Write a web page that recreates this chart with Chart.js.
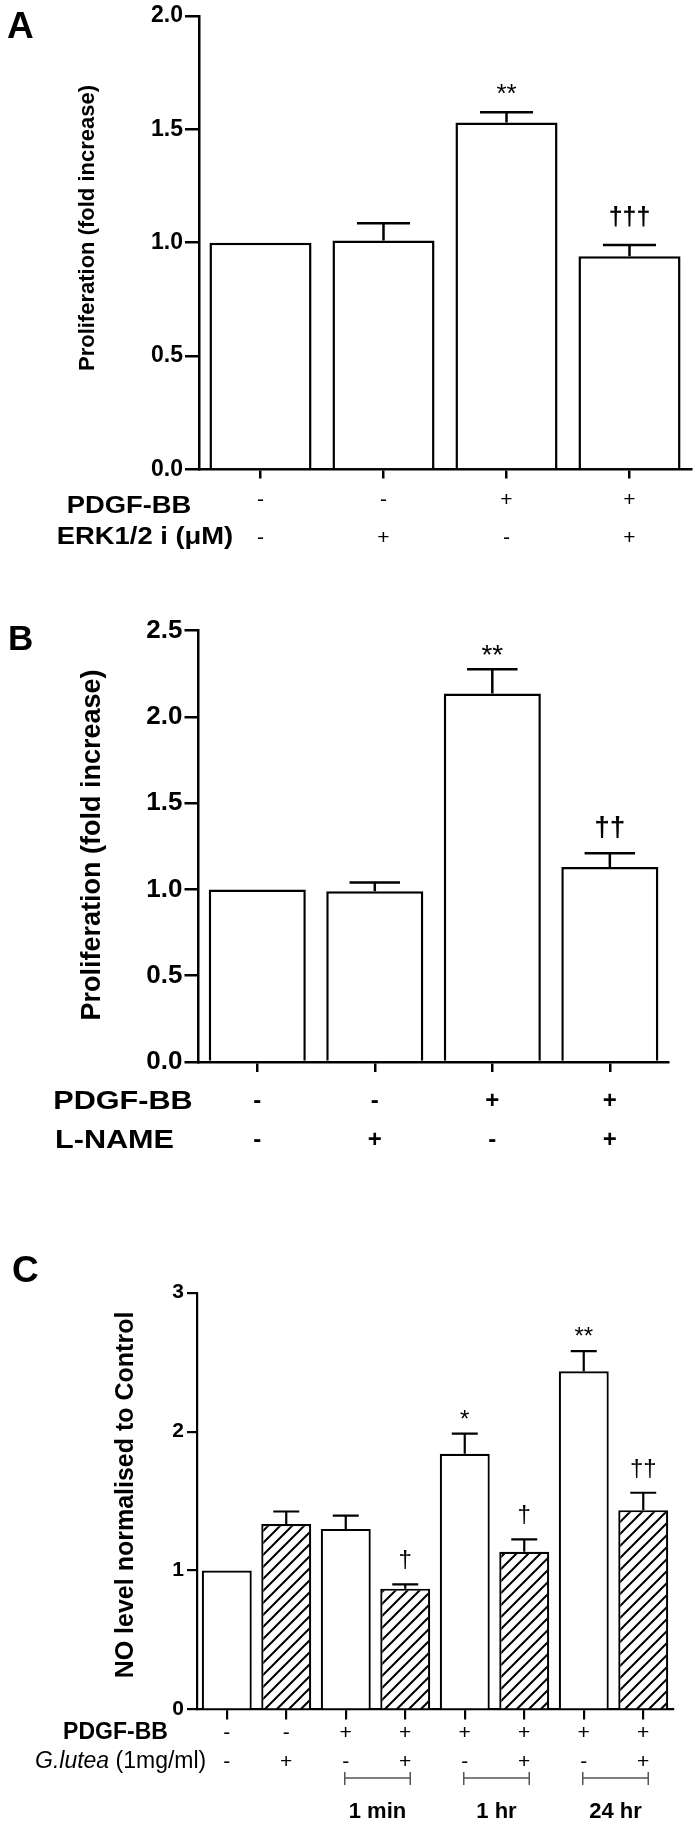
<!DOCTYPE html>
<html>
<head>
<meta charset="utf-8">
<script src="https://cdn.jsdelivr.net/npm/chart.js@4.4.1/dist/chart.umd.min.js"></script>
<style>
  html, body { margin: 0; padding: 0; background: #fff; }
  #page { position: relative; width: 698px; height: 1827px; overflow: hidden; background: #fff; }
  canvas { position: absolute; left: 0; }
</style>
</head>
<body>
<div id="page">
  <canvas id="panelA" width="698" height="560" style="top:0px"></canvas>
  <canvas id="panelB" width="698" height="610" style="top:560px"></canvas>
  <canvas id="panelC" width="698" height="657" style="top:1170px"></canvas>
</div>
<script>
// ---- data ----
// Panel A: ERK1/2 inhibitor
const aGroups = ["Control", "ERK1/2 i", "PDGF-BB", "PDGF-BB + ERK1/2 i"];
const aMeans = [1.0, 1.01, 1.53, 0.94];
const aSem = [0, 0.075, 0.045, 0.05];
const aSig = ["", "", "**", "†††"];
const aPdgf = ["-", "-", "+", "+"];
const aErk = ["-", "+", "-", "+"];

// Panel B: L-NAME
const bGroups = ["Control", "L-NAME", "PDGF-BB", "PDGF-BB + L-NAME"];
const bMeans = [1.0, 0.99, 2.135, 1.13];
const bSem = [0, 0.05, 0.14, 0.08];
const bSig = ["", "", "**", "††"];
const bPdgf = ["-", "-", "+", "+"];
const bLname = ["-", "+", "-", "+"];

// Panel C: NO level, G. lutea over time
const cGroups = ["Control", "G.lutea", "PDGF 1min", "PDGF+G 1min", "PDGF 1hr", "PDGF+G 1hr", "PDGF 24hr", "PDGF+G 24hr"];
const cMeans = [1.0, 1.335, 1.30, 0.87, 1.84, 1.135, 2.435, 1.435];
const cSem = [0, 0.09, 0.095, 0.03, 0.145, 0.09, 0.145, 0.125];
const cSig = ["", "", "", "†", "*", "†", "**", "††"];
const cPdgf = ["-", "-", "+", "+", "+", "+", "+", "+"];
const cLutea = ["-", "+", "-", "+", "-", "+", "-", "+"];
const cHatched = [false, true, false, true, false, true, false, true];
const cTimes = ["1 min", "1 hr", "24 hr"];
const cTimeStart = [2, 4, 6]; // first bar index of each bracket

// ---- helpers ----
const FAMILY = '"Liberation Sans", Arial, Helvetica, sans-serif';
const font = (size, weight = "normal", style = "normal") => `${style} ${weight} ${size}px ${FAMILY}`;

Chart.defaults.font.family = FAMILY;
Chart.defaults.color = "#000";

function hatchPattern(ctx) {
  const s = 12;
  const tile = document.createElement("canvas");
  tile.width = s;
  tile.height = s;
  const g = tile.getContext("2d");
  g.fillStyle = "#fff";
  g.fillRect(0, 0, s, s);
  g.strokeStyle = "#000";
  g.lineWidth = 2;
  g.beginPath();
  g.moveTo(-2, s + 2); g.lineTo(s + 2, -2);
  g.moveTo(-2, 2); g.lineTo(2, -2);
  g.moveTo(s - 2, s + 2); g.lineTo(s + 2, s - 2);
  g.stroke();
  return ctx.createPattern(tile, "repeat");
}

// text made of differently styled pieces, optionally widened (the source art is stretched sideways)
function drawParts(ctx, parts, x, y, align, stretch = 1) {
  let w = 0;
  for (const p of parts) { ctx.font = p.font; w += ctx.measureText(p.text).width; }
  const x0 = align === "center" ? x - (w * stretch) / 2 : x;
  ctx.save();
  ctx.translate(x0, y);
  ctx.scale(stretch, 1);
  ctx.textAlign = "left";
  let tx = 0;
  for (const p of parts) {
    ctx.font = p.font;
    ctx.fillText(p.text, tx, 0);
    tx += ctx.measureText(p.text).width;
  }
  ctx.restore();
}

// error bars, significance marks, row labels, titles
function extras(o) {
  return {
    id: "extras",
    afterDatasetsDraw(chart) {
      const ctx = chart.ctx;
      const ds = chart.data.datasets[0];
      const y = chart.scales.y;
      ctx.save();
      ctx.strokeStyle = "#000";
      ctx.fillStyle = "#000";
      ctx.lineWidth = o.lineWidth;
      chart.getDatasetMeta(0).data.forEach((bar, i) => {
        const err = ds.sem[i];
        const top = y.getPixelForValue(ds.data[i] + err);
        if (err > 0) {
          const half = bar.width * 0.26;
          ctx.beginPath();
          ctx.moveTo(bar.x, bar.y);
          ctx.lineTo(bar.x, top);
          ctx.moveTo(bar.x - half, top);
          ctx.lineTo(bar.x + half, top);
          ctx.stroke();
        }
        const mark = ds.sig[i];
        if (mark) {
          ctx.font = mark[0] === "*" ? o.starFont : o.daggerFont;
          ctx.textAlign = "center";
          ctx.textBaseline = "alphabetic";
          const m = ctx.measureText(mark);
          ctx.fillText(mark, bar.x, top - o.markGap - m.actualBoundingBoxDescent);
        }
      });
      ctx.restore();
    },
    afterDraw(chart) {
      const ctx = chart.ctx;
      const x = chart.scales.x;
      ctx.save();
      ctx.fillStyle = "#000";

      ctx.font = o.letter.font;
      ctx.textAlign = "left";
      ctx.textBaseline = "alphabetic";
      ctx.fillText(o.letter.text, o.letter.x, o.letter.y);

      ctx.save();
      ctx.translate(o.yTitle.x, o.yTitle.y);
      ctx.rotate(-Math.PI / 2);
      ctx.font = o.yTitle.font;
      ctx.textAlign = "center";
      ctx.textBaseline = "middle";
      ctx.fillText(o.yTitle.text, 0, 0);
      ctx.restore();

      ctx.textBaseline = "middle";
      for (const r of o.rows) {
        drawParts(ctx, r.parts, r.titleX, r.titleY, r.align, o.rowStretch);
        ctx.font = o.signFont;
        ctx.textAlign = "center";
        r.signs.forEach((s, i) => ctx.fillText(s, x.getPixelForValue(i), r.y));
      }

      if (o.brackets) {
        const b = o.brackets;
        ctx.strokeStyle = "#555";
        ctx.lineWidth = 1.5;
        b.starts.forEach((start, k) => {
          const x1 = x.getPixelForValue(start) - 1;
          const x2 = x.getPixelForValue(start + 1) + 5;
          ctx.beginPath();
          ctx.moveTo(x1, b.y - 6); ctx.lineTo(x1, b.y + 7);
          ctx.moveTo(x1, b.y); ctx.lineTo(x2, b.y);
          ctx.moveTo(x2, b.y - 6); ctx.lineTo(x2, b.y + 7);
          ctx.stroke();
          ctx.font = b.font;
          ctx.textAlign = "center";
          ctx.fillText(b.labels[k], (x1 + x2) / 2, b.labelY);
        });
      }
      ctx.restore();
    },
  };
}

function barPanel(id, o) {
  const canvas = document.getElementById(id);
  return new Chart(canvas, {
    type: "bar",
    data: {
      labels: o.labels,
      datasets: [{
        data: o.means,
        sem: o.sem,
        sig: o.sig,
        backgroundColor: o.fills,
        borderColor: "#000",
        borderWidth: o.lineWidth,
        barPercentage: o.barPct,
        categoryPercentage: 1,
      }],
    },
    options: {
      responsive: false,
      animation: false,
      events: [],
      layout: { padding: o.padding },
      plugins: { legend: { display: false }, tooltip: { enabled: false } },
      scales: {
        x: {
          offset: true,
          ticks: { display: false },
          grid: { offset: false, drawOnChartArea: false, drawTicks: true, tickLength: o.xTick, color: "#000", lineWidth: o.lineWidth },
          border: { color: "#000", width: o.lineWidth },
          afterFit: (s) => { s.height = o.xHeight; },
        },
        y: {
          min: 0,
          max: o.yMax,
          ticks: {
            stepSize: o.yStep,
            padding: o.yPad,
            color: "#000",
            font: { size: o.yFontSize, weight: "bold" },
            callback: (v) => v.toFixed(o.yDecimals),
          },
          grid: { drawOnChartArea: false, drawTicks: true, tickLength: o.yTick, color: "#000", lineWidth: o.lineWidth },
          border: { color: "#000", width: o.lineWidth },
          afterFit: (s) => { s.width = o.yWidth; },
        },
      },
    },
    plugins: [extras(o)],
  });
}

// ---- Panel A ----
barPanel("panelA", {
  labels: aGroups, means: aMeans, sem: aSem, sig: aSig,
  fills: aMeans.map(() => "#fff"),
  lineWidth: 2.5, barPct: 0.83,
  padding: { left: 0, top: 15, right: 7, bottom: 0 },
  yWidth: 199, xHeight: 90.5, xTick: 9,
  yMax: 2, yStep: 0.5, yDecimals: 1, yFontSize: 23, yTick: 14, yPad: 2,
  starFont: font(26), daggerFont: font(25, "bold"), markGap: 18,
  signFont: font(21),
  rowStretch: 1.19,
  letter: { text: "A", x: 7, y: 38, font: font(37, "bold") },
  yTitle: { text: "Proliferation (fold increase)", x: 88, y: 228, font: font(22, "bold") },
  rows: [
    { parts: [{ text: "PDGF-BB", font: font(23, "bold") }], titleX: 129, titleY: 507, align: "center", y: 500, signs: aPdgf },
    { parts: [{ text: "ERK1/2 i (μM)", font: font(23, "bold") }], titleX: 145, titleY: 538, align: "center", y: 538, signs: aErk },
  ],
});

// ---- Panel B ----
barPanel("panelB", {
  labels: bGroups, means: bMeans, sem: bSem, sig: bSig,
  fills: bMeans.map(() => "#fff"),
  lineWidth: 2.5, barPct: 0.826,
  padding: { left: 0, top: 70.5, right: 29.4, bottom: 0 },
  yWidth: 198.5, xHeight: 108, xTick: 10,
  yMax: 2.5, yStep: 0.5, yDecimals: 1, yFontSize: 26, yTick: 14, yPad: 2,
  starFont: font(28), daggerFont: font(28, "bold"), markGap: 14,
  signFont: font(24, "bold"),
  rowStretch: 1.2,
  letter: { text: "B", x: 8, y: 90, font: font(35, "bold") },
  yTitle: { text: "Proliferation (fold increase)", x: 92.5, y: 285, font: font(27, "bold") },
  rows: [
    { parts: [{ text: "PDGF-BB", font: font(25.5, "bold") }], titleX: 123, titleY: 541.5, align: "center", y: 541.5, signs: bPdgf },
    { parts: [{ text: "L-NAME", font: font(25.5, "bold") }], titleX: 114.5, titleY: 580.5, align: "center", y: 580.5, signs: bLname },
  ],
});

// ---- Panel C ----
const ctxC = document.getElementById("panelC").getContext("2d");
const hatch = hatchPattern(ctxC);
barPanel("panelC", {
  labels: cGroups, means: cMeans, sem: cSem, sig: cSig,
  fills: cHatched.map((h) => (h ? hatch : "#fff")),
  lineWidth: 2.2, barPct: 0.84,
  padding: { left: 0, top: 122.7, right: 25, bottom: 0 },
  yWidth: 197, xHeight: 117.5, xTick: 10,
  yMax: 3, yStep: 1, yDecimals: 0, yFontSize: 21, yTick: 10, yPad: 3,
  starFont: font(24), daggerFont: font(24), markGap: 15,
  signFont: font(21),
  rowStretch: 1,
  letter: { text: "C", x: 12, y: 112, font: font(37, "bold") },
  yTitle: { text: "NO level normalised to Control", x: 126, y: 325, font: font(25, "bold") },
  rows: [
    { parts: [{ text: "PDGF-BB", font: font(23, "bold") }], titleX: 115.5, titleY: 563, align: "center", y: 563, signs: cPdgf },
    { parts: [{ text: "G.lutea", font: font(23, "normal", "italic") }, { text: " (1mg/ml)", font: font(23) }], titleX: 35, titleY: 592, align: "left", y: 592, signs: cLutea },
  ],
  brackets: { starts: cTimeStart, labels: cTimes, y: 608, labelY: 642, font: font(22, "bold") },
});
</script>
</body>
</html>
